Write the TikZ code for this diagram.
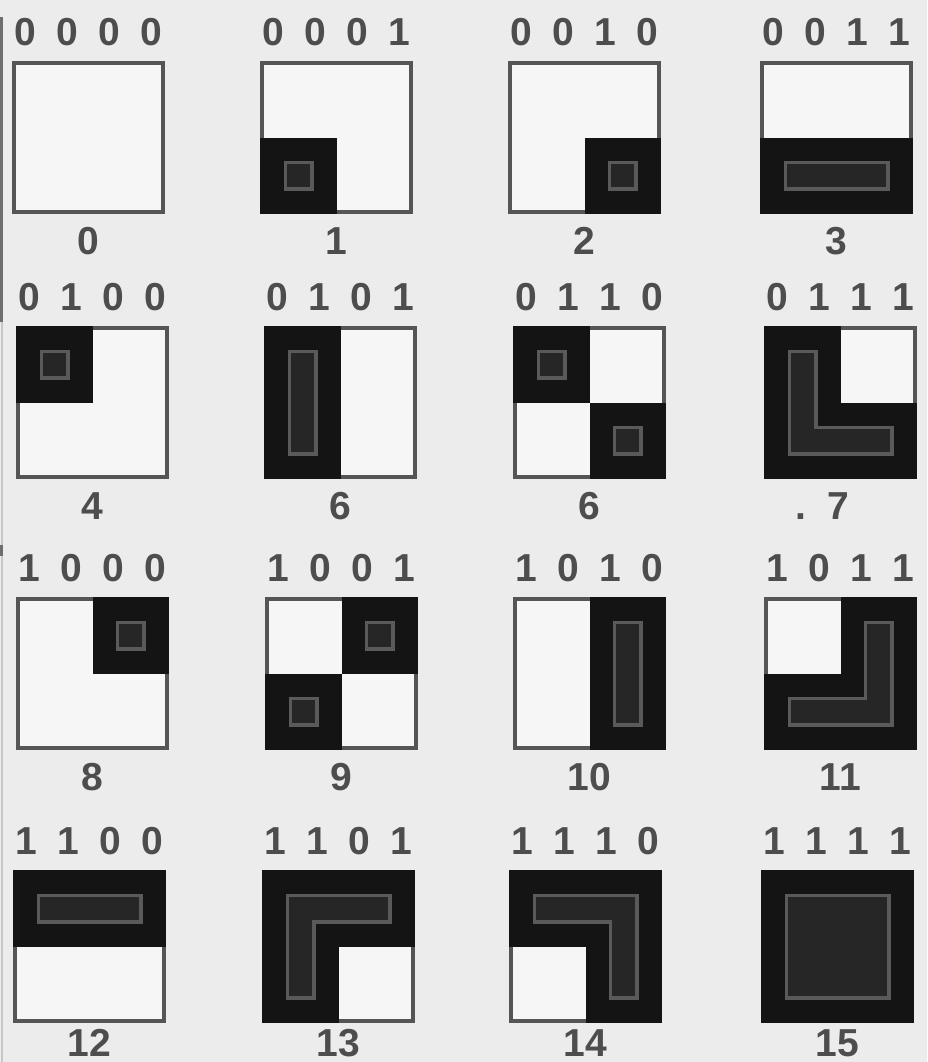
\documentclass[tikz,border=0pt]{standalone}
\usepackage{fontspec}
\setmainfont{Liberation Sans}
\definecolor{bg}{HTML}{ECECEC}
\definecolor{boxwhite}{HTML}{F6F6F6}
\definecolor{boxline}{HTML}{555555}
\definecolor{qdark}{HTML}{141414}
\definecolor{rimgray}{HTML}{5A5A5A}
\definecolor{coregray}{HTML}{262626}
\definecolor{ink}{HTML}{4D4D4D}
\definecolor{edgeline}{HTML}{6E6E6E}
\definecolor{edgelight}{HTML}{C6C6C6}
\newcommand\lblfont{\fontsize{39}{39}\selectfont\bfseries}
\newcommand\innerpart[5]{%
 \ifnum#2=1 \fill (38.5-#1,38.5-#1) rectangle (38.5+#1,38.5+#1);\fi
 \ifnum#3=1 \fill (114.5-#1,38.5-#1) rectangle (114.5+#1,38.5+#1);\fi
 \ifnum#4=1 \fill (38.5-#1,114.5-#1) rectangle (38.5+#1,114.5+#1);\fi
 \ifnum#5=1 \fill (114.5-#1,114.5-#1) rectangle (114.5+#1,114.5+#1);\fi
 \ifnum#2#3=11 \fill (38.5,38.5-#1) rectangle (114.5,38.5+#1);\fi
 \ifnum#4#5=11 \fill (38.5,114.5-#1) rectangle (114.5,114.5+#1);\fi
 \ifnum#2#4=11 \fill (38.5-#1,38.5) rectangle (38.5+#1,114.5);\fi
 \ifnum#3#5=11 \fill (114.5-#1,38.5) rectangle (114.5+#1,114.5);\fi
 \ifnum#2#3#4#5=1111 \fill (38.5,38.5) rectangle (114.5,114.5);\fi
}
\tikzset{
 boxnode/.style={draw=boxline, line width=4pt, fill=boxwhite, minimum size=149pt, inner sep=0pt},
 lbl/.style={text=ink, font=\lblfont, inner sep=0pt},
 darkfill/.style={fill=qdark},
 rimfill/.style={fill=rimgray},
 corefill/.style={fill=coregray}
}
\begin{document}
\begin{tikzpicture}[x=1pt,y=-1pt]
\useasboundingbox (0,0) rectangle (927,1062);
\fill[bg] (0,0) rectangle (927,1062);
% left edge rule of the scan
\draw[edgelight, line width=2pt] (1.5,320) -- (1.5,1062);
\draw[edgeline, line width=3pt] (1.5,17) -- (1.5,322);
\fill[edgeline] (0,545) rectangle (3,556);
\foreach \px/\py/\bA/\bB/\bC/\bD/\num/\dx/\dy/\k in {
 12/61/0/0/0/0/0/0/27/1, 260/61/0/0/0/1/1/0/27/2, 508/61/0/0/1/0/2/0/27/3, 760/61/0/0/1/1/3/0/27/4,
 16/326/0/1/0/0/4/0/27/5, 264/326/0/1/0/1/6/0/27/6, 513/326/0/1/1/0/6/0/27/7, 764/326/0/1/1/1/{.\ \ 7}/-18/27/8,
 16/597/1/0/0/0/8/0/27/9, 265/597/1/0/0/1/9/0/27/10, 513/597/1/0/1/0/10/0/27/11, 764/597/1/0/1/1/11/0/27/12,
 13/870/1/1/0/0/12/0/20/13, 262/870/1/1/0/1/13/0/20/14, 509/870/1/1/1/0/14/0/20/15, 761/870/1/1/1/1/15/0/20/16}{
  \node[lbl] (bits\k) at (\px+76.5,\py-29) {\bA\hspace{20.5pt}\bB\hspace{20.5pt}\bC\hspace{20.5pt}\bD};
  \node[boxnode] (box\k) at (\px+76.5,\py+76.5) {};
  \node[lbl] (num\k) at (\px+76.5+\dx,\py+153+\dy) {\num};
  \begin{scope}[shift={(\px,\py)}]
    \ifnum\bB=1 \fill[darkfill] (0,0) rectangle (76.5,76.5);\fi
    \ifnum\bA=1 \fill[darkfill] (76.5,0) rectangle (153,76.5);\fi
    \ifnum\bD=1 \fill[darkfill] (0,76.5) rectangle (76.5,153);\fi
    \ifnum\bC=1 \fill[darkfill] (76.5,76.5) rectangle (153,153);\fi
    \begin{scope}[rimfill]\innerpart{15}{\bB}{\bA}{\bD}{\bC}\end{scope}
    \begin{scope}[corefill]\innerpart{11.5}{\bB}{\bA}{\bD}{\bC}\end{scope}
  \end{scope}
}
\end{tikzpicture}
\end{document}
